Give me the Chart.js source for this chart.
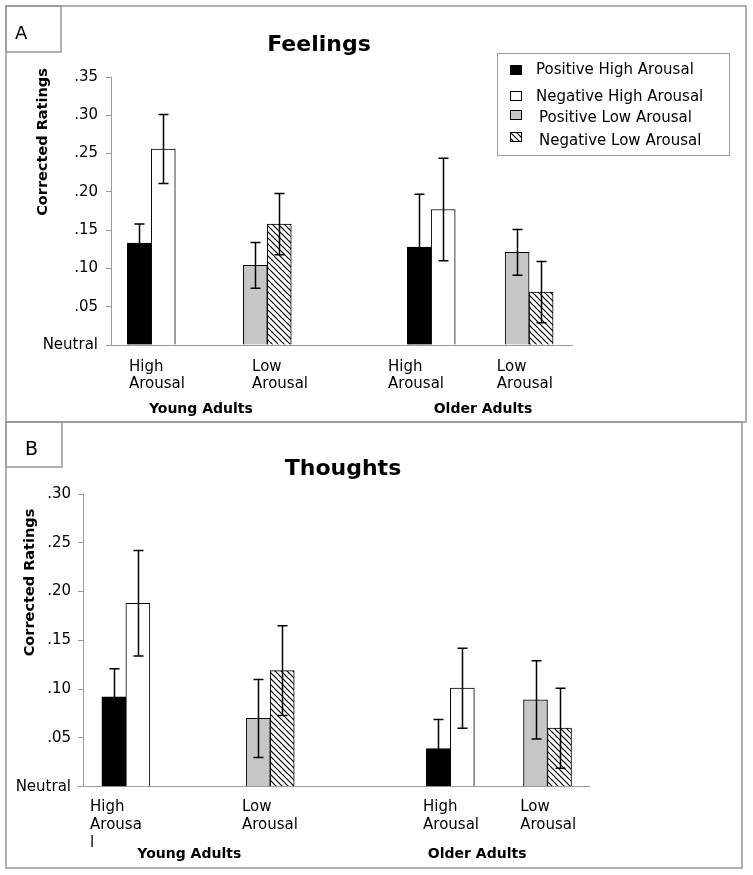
<!DOCTYPE html>
<html>
<head>
<meta charset="utf-8">
<title>Feelings and Thoughts</title>
<script src="https://cdn.jsdelivr.net/npm/chart.js@4.4.0/dist/chart.umd.min.js"></script>
<style>
  body { margin: 0; background: #fff; }
  canvas { position: absolute; left: 0; }
  #chartA { top: 0; }
  #chartB { top: 420px; }
</style>
</head>
<body>
<canvas id="chartA" width="753" height="424"></canvas>
<canvas id="chartB" width="753" height="455"></canvas>
<script>
// legend / series names
const seriesLabels = ['Positive High Arousal', 'Negative High Arousal', 'Positive Low Arousal', 'Negative Low Arousal'];
const groupNames = ['Young Adults', 'Older Adults'];

// slot order: young high, young low, older high, older low
// Panel A - Feelings
const feelPosHigh = [0.133, null, 0.128, null];
const feelNegHigh = [0.256, null, 0.177, null];
const feelPosLow  = [null, 0.104, null, 0.121];
const feelNegLow  = [null, 0.158, null, 0.069];
const feelPosHighErr = [0.025, null, 0.069, null];
const feelNegHighErr = [0.045, null, 0.067, null];
const feelPosLowErr  = [null, 0.030, null, 0.030];
const feelNegLowErr  = [null, 0.040, null, 0.040];

// Panel B - Thoughts
const thoPosHigh = [0.092, null, 0.039, null];
const thoNegHigh = [0.188, null, 0.101, null];
const thoPosLow  = [null, 0.070, null, 0.089];
const thoNegLow  = [null, 0.119, null, 0.060];
const thoPosHighErr = [0.029, null, 0.030, null];
const thoNegHighErr = [0.054, null, 0.041, null];
const thoPosLowErr  = [null, 0.040, null, 0.040];
const thoNegLowErr  = [null, 0.046, null, 0.041];

// tick labels under the bars
const arousalLabelsA = [['High', 'Arousal'], ['Low', 'Arousal'], ['High', 'Arousal'], ['Low', 'Arousal']];
const arousalLabelsB = [['High', 'Arousa', 'l'], ['Low', 'Arousal'], ['High', 'Arousal'], ['Low', 'Arousal']];

// where things sit along the x axis (0-100 of the axis length)
const slotPosA  = [8.74, 33.9, 69.46, 90.7];
const labelPosA = [3.9, 30.6, 60.1, 83.7];
const groupPosA = [19.5, 80.7];
const slotPosB  = [8.47, 37.0, 72.6, 91.8];
const labelPosB = [1.4, 31.4, 67.2, 86.4];
const groupPosB = [21.0, 77.9];

const yMaxA = 0.35;
const yMaxB = 0.30;
const yStep = 0.05;

const axisGray = '#9a9a9a';
const frameGray = '#999';
const FONT = "'DejaVu Sans', Verdana, sans-serif";
Chart.defaults.font.family = FONT;
Chart.defaults.color = '#000';

function makeHatch() {
  const c = document.createElement('canvas');
  c.width = c.height = 6;
  const g = c.getContext('2d');
  g.fillStyle = '#fff';
  g.fillRect(0, 0, 6, 6);
  g.strokeStyle = '#000';
  g.lineWidth = 1.2;
  g.beginPath();
  g.moveTo(0, 0); g.lineTo(6, 6);
  g.moveTo(-1, 5); g.lineTo(1, 7);
  g.moveTo(5, -1); g.lineTo(7, 1);
  g.stroke();
  return g.createPattern(c, 'repeat');
}
const hatch = makeHatch();
const fills = ['#000000', '#ffffff', '#c6c6c6', hatch];

const errorBars = {
  id: 'errorBars',
  afterDatasetsDraw(chart) {
    const ctx = chart.ctx, y = chart.scales.y;
    ctx.save();
    ctx.strokeStyle = '#000';
    ctx.lineWidth = 1.5;
    chart.data.datasets.forEach((ds, i) => {
      chart.getDatasetMeta(i).data.forEach((bar, j) => {
        const v = ds.data[j].y, e = ds.errors[j];
        if (v == null || e == null) return;
        const x = Math.round(bar.x) + 0.5;
        const t = y.getPixelForValue(v + e), b = y.getPixelForValue(v - e);
        ctx.beginPath();
        ctx.moveTo(x, t); ctx.lineTo(x, b);
        ctx.moveTo(x - 5, t); ctx.lineTo(x + 5, t);
        ctx.moveTo(x - 5, b); ctx.lineTo(x + 5, b);
        ctx.stroke();
      });
    });
    ctx.restore();
  }
};

const decor = {
  id: 'decor',
  afterDraw(chart, args, o) {
    const ctx = chart.ctx;
    ctx.save();
    // panel frame and the letter box
    ctx.strokeStyle = frameGray;
    ctx.lineWidth = 1.5;
    const f = o.frame, bx = o.box;
    ctx.strokeRect(f[0], f[1], f[2] - f[0], f[3] - f[1]);
    ctx.strokeRect(bx[0], bx[1], bx[2] - bx[0], bx[3] - bx[1]);

    ctx.fillStyle = '#000';
    ctx.textBaseline = 'alphabetic';
    ctx.textAlign = 'left';
    ctx.font = o.letterSize + 'px ' + FONT;
    ctx.fillText(o.letter, o.letterX, o.letterY);

    ctx.textAlign = 'center';
    ctx.font = 'bold 22px ' + FONT;
    ctx.fillText(o.title, o.titleX, o.titleY);

    // group names under the axis
    ctx.font = 'bold 14px ' + FONT;
    o.groupPos.forEach((p, i) => {
      ctx.fillText(groupNames[i], chart.scales.x.getPixelForValue(p), o.groupY);
    });

    // y axis title
    ctx.save();
    ctx.translate(o.yTitleX, o.yTitleY);
    ctx.rotate(-Math.PI / 2);
    ctx.textBaseline = 'middle';
    ctx.font = 'bold 14.5px ' + FONT;
    ctx.fillText('Corrected Ratings', 0, 0);
    ctx.restore();

    if (o.legend) {
      ctx.strokeStyle = frameGray;
      ctx.lineWidth = 1;
      ctx.strokeRect(497.5, 53.5, 232, 102);
      const rows = [[65, 70.5, 536], [91, 97, 536], [110, 118.5, 539], [132, 141, 539]];
      ctx.font = '15px ' + FONT;
      ctx.textAlign = 'left';
      ctx.textBaseline = 'middle';
      chart.data.datasets.forEach((ds, i) => {
        const r = rows[i];
        ctx.fillStyle = ds.backgroundColor;
        ctx.fillRect(510, r[0], 12, 10);
        ctx.strokeStyle = '#000';
        ctx.strokeRect(510.5, r[0] + 0.5, 11, 9);
        ctx.fillStyle = '#000';
        ctx.fillText(ds.label, r[2], r[1]);
      });
    }
    ctx.restore();
  }
};

function makeChart(id, p) {
  const datasets = p.values.map((vals, i) => ({
    label: seriesLabels[i],
    data: vals.map((v, j) => ({ x: p.slots[j], y: v })),
    errors: p.errors[i],
    backgroundColor: fills[i],
    borderColor: '#000',
    borderWidth: 1,
    barThickness: 24,
    skipNull: true
  }));

  return new Chart(document.getElementById(id), {
    type: 'bar',
    data: { datasets },
    options: {
      responsive: false,
      animation: false,
      devicePixelRatio: 1,
      layout: { padding: { top: p.top, right: p.right, left: 0, bottom: 0 } },
      plugins: {
        legend: { display: false },
        tooltip: { enabled: false },
        decor: p.decor
      },
      scales: {
        x: {
          type: 'linear',
          min: 0,
          max: 100,
          offset: false,
          grid: { display: false },
          border: { display: true, color: axisGray },
          afterBuildTicks: s => { s.ticks = p.labelPos.map(v => ({ value: v })); },
          afterFit: s => { s.height = p.xHeight; },
          ticks: {
            autoSkip: false,
            maxRotation: 0,
            align: 'start',
            padding: p.xPad,
            color: '#000',
            font: { size: 15, lineHeight: p.xLine },
            callback: (v, i) => p.xLabels[i]
          }
        },
        y: {
          min: 0,
          max: p.yMax,
          grid: { drawOnChartArea: false, tickLength: 5, color: axisGray },
          border: { display: true, color: axisGray },
          afterFit: s => { s.width = p.yWidth; },
          ticks: {
            stepSize: yStep,
            padding: p.yPad,
            color: '#000',
            font: { size: 15 },
            callback: v => v === 0 ? 'Neutral' : v.toFixed(2).slice(1)
          }
        }
      }
    },
    plugins: [errorBars, decor]
  });
}

makeChart('chartA', {
  values: [feelPosHigh, feelNegHigh, feelPosLow, feelNegLow],
  errors: [feelPosHighErr, feelNegHighErr, feelPosLowErr, feelNegLowErr],
  slots: slotPosA,
  labelPos: labelPosA,
  xLabels: arousalLabelsA,
  yMax: yMaxA,
  top: 77, right: 181, yWidth: 111, xHeight: 79,
  xPad: 5, xLine: 1.15, yPad: 8,
  decor: {
    frame: [6, 6, 746, 422], box: [6, 6, 61, 52],
    letter: 'A', letterSize: 18, letterX: 15, letterY: 39,
    title: 'Feelings', titleX: 319, titleY: 51,
    groupPos: groupPosA, groupY: 413,
    yTitleX: 43, yTitleY: 142,
    legend: true
  }
});

makeChart('chartB', {
  values: [thoPosHigh, thoNegHigh, thoPosLow, thoNegLow],
  errors: [thoPosHighErr, thoNegHighErr, thoPosLowErr, thoNegLowErr],
  slots: slotPosB,
  labelPos: labelPosB,
  xLabels: arousalLabelsB,
  yMax: yMaxB,
  top: 74, right: 164, yWidth: 83, xHeight: 88.3,
  xPad: 3, xLine: 1.2, yPad: 7,
  decor: {
    frame: [6, 2, 742, 448], box: [6, 2, 62, 47],
    letter: 'B', letterSize: 19, letterX: 25, letterY: 35,
    title: 'Thoughts', titleX: 343, titleY: 55,
    groupPos: groupPosB, groupY: 438,
    yTitleX: 30, yTitleY: 162.5,
    legend: false
  }
});
</script>
</body>
</html>
